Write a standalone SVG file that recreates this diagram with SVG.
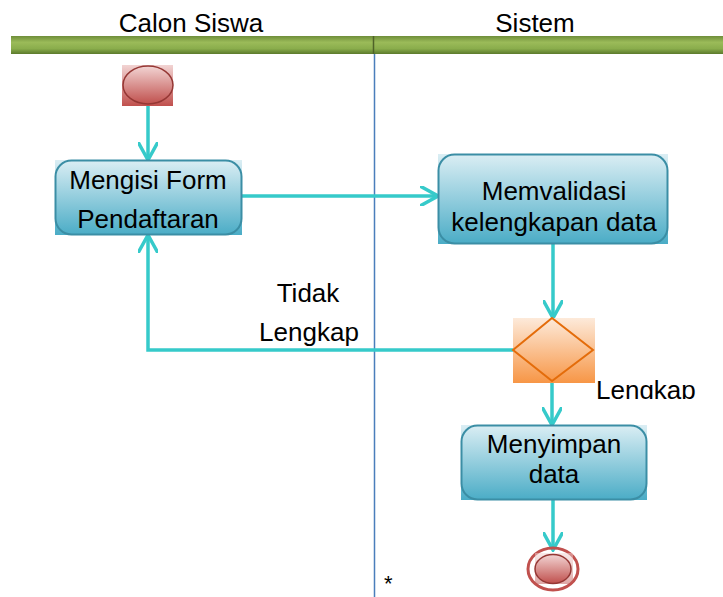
<svg xmlns="http://www.w3.org/2000/svg" width="723" height="597" viewBox="0 0 723 597">
<defs>
<linearGradient id="gBar" x1="0" y1="0" x2="0" y2="1">
<stop offset="0" stop-color="#6F8E3A"/><stop offset="0.35" stop-color="#9BBB59"/><stop offset="0.7" stop-color="#8AAD4C"/><stop offset="1" stop-color="#5C7A2C"/>
</linearGradient>
<linearGradient id="gNode" x1="0" y1="0" x2="0" y2="1">
<stop offset="0" stop-color="#DBEEF4"/><stop offset="1" stop-color="#4AACC6"/>
</linearGradient>
<linearGradient id="gRed" x1="0" y1="0" x2="0" y2="1">
<stop offset="0" stop-color="#F2D4D3"/><stop offset="1" stop-color="#C0504D"/>
</linearGradient>
<linearGradient id="gOrange" x1="0" y1="0" x2="0" y2="1">
<stop offset="0" stop-color="#FDEADA"/><stop offset="1" stop-color="#F79646"/>
</linearGradient>
<marker id="arr" viewBox="0 0 20 20" refX="18" refY="10" markerWidth="20" markerHeight="20" markerUnits="userSpaceOnUse" orient="auto">
<path d="M0,0 L18,10 L0,20" fill="none" stroke="#36CACA" stroke-width="3.5"/>
</marker>
<clipPath id="clipL"><rect x="590" y="370" width="133" height="29"/></clipPath>
</defs>
<style>
text{font-family:"Liberation Sans",Arial,sans-serif;fill:#000}
.t{font-size:26px;text-anchor:middle}
.nf{fill:url(#gNode)}
.ns{fill:none;stroke:#3B8EA5;stroke-width:2}
.c{fill:none;stroke:#36CACA;stroke-width:3.5}
</style>
<rect width="723" height="597" fill="#fff"/>
<g id="lanes">
<rect x="11" y="36" width="362" height="18" fill="url(#gBar)"/>
<rect x="374" y="36" width="349" height="18" fill="url(#gBar)"/>
<line x1="373.5" y1="36" x2="373.5" y2="54" stroke="#4F6228" stroke-width="1.5"/>
<line x1="374.5" y1="54" x2="374.5" y2="597" stroke="#4A7EBB" stroke-width="1.5"/>
<text class="t" x="191" y="32">Calon Siswa</text>
<text class="t" x="535" y="32">Sistem</text>
</g>
<g id="connectors">
<line class="c" x1="148" y1="105" x2="148" y2="160" marker-end="url(#arr)"/>
<line class="c" x1="242" y1="196" x2="438" y2="196" marker-end="url(#arr)"/>
<line class="c" x1="553" y1="244" x2="553" y2="318" marker-end="url(#arr)"/>
<polyline class="c" points="513,350 148,350 148,235" marker-end="url(#arr)"/>
<line class="c" x1="552" y1="381" x2="552" y2="425" marker-end="url(#arr)"/>
<line class="c" x1="553" y1="500" x2="553" y2="550" marker-end="url(#arr)"/>
<text x="308" y="302" style="font-size:26px;text-anchor:middle">Tidak</text>
<text x="309" y="341" style="font-size:26px;text-anchor:middle">Lengkap</text>
<text x="596" y="399" clip-path="url(#clipL)" style="font-size:26px">Lengkap</text>
</g>
<g id="start">
<rect x="122" y="65" width="51" height="41" fill="url(#gRed)"/>
<ellipse cx="148" cy="85" rx="25" ry="19" fill="url(#gRed)" stroke="#953734" stroke-width="1.5"/>
</g>
<g id="node-mengisi">
<rect x="55" y="160" width="187" height="75" class="nf"/>
<rect x="55.5" y="160.5" width="186" height="74" rx="16" class="ns"/>
<text class="t" x="148" y="189">Mengisi Form</text>
<text class="t" x="148" y="228">Pendaftaran</text>
</g>
<g id="node-memvalidasi">
<rect x="438" y="154" width="230" height="90" class="nf"/>
<rect x="438.5" y="154.5" width="229" height="89" rx="16" class="ns"/>
<text class="t" x="554" y="200">Memvalidasi</text>
<text class="t" x="554" y="231">kelengkapan data</text>
</g>
<g id="decision">
<rect x="513" y="318" width="82" height="65" fill="url(#gOrange)"/>
<polygon points="552,318 593,350 552,381 513,350" fill="none" stroke="#E46C0A" stroke-width="2"/>
</g>
<g id="node-menyimpan">
<rect x="461" y="425" width="186" height="75" class="nf"/>
<rect x="461.5" y="425.5" width="185" height="74" rx="16" class="ns"/>
<text class="t" x="554" y="453">Menyimpan</text>
<text class="t" x="554" y="483">data</text>
</g>
<g id="end">
<ellipse cx="553" cy="569" rx="25" ry="21" fill="none" stroke="#C0504D" stroke-width="3"/>
<rect x="535" y="553" width="38" height="31" fill="url(#gRed)" opacity="0.5"/>
<ellipse cx="553" cy="569" rx="18" ry="14.5" fill="url(#gRed)" stroke="#953734" stroke-width="1.5"/>
</g>
<text x="384" y="591" style="font-size:22px">*</text>
</svg>
